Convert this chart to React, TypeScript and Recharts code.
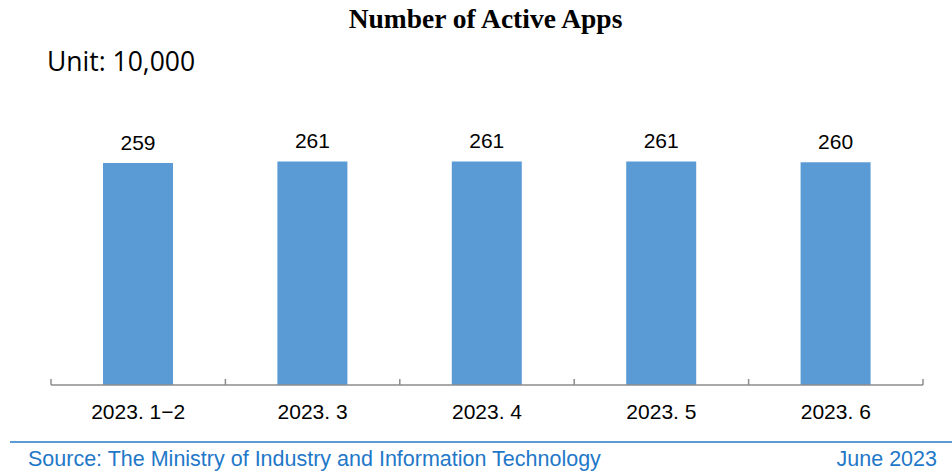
import { BarChart, Bar, XAxis, YAxis, LabelList } from "recharts";

const months = ["2023. 1\u22122", "2023. 3", "2023. 4", "2023. 5", "2023. 6"];
const activeApps = [259, 261, 261, 261, 260];
const edgeTicks = [0, 1, 2, 3, 4, 5];

// pos = slot centre, used only by the hidden numeric axis that draws boundary ticks
const data = months.map((month, i) => ({ month, apps: activeApps[i], pos: i + 0.5 }));

const BLUE = "#5b9bd5";
const noLabel = () => <g />;

export default function App() {
  return (
    <div style={{ position: "absolute", top: 0, left: 0, width: 952, height: 475, background: "#fff", overflow: "hidden" }}>
      <div
        style={{
          position: "absolute",
          top: 3,
          left: 0,
          width: 971,
          textAlign: "center",
          fontFamily: "'Liberation Serif', serif",
          fontWeight: "bold",
          fontSize: 27.5,
          color: "#000",
        }}
      >
        Number of Active Apps
      </div>
      <div
        style={{
          position: "absolute",
          top: 43,
          left: 47,
          fontFamily: "'Open Sans', sans-serif",
          fontSize: 26.5,
          color: "#000",
        }}
      >
        Unit: 10,000
      </div>

      <BarChart
        width={952}
        height={475}
        data={data}
        margin={{ top: 128, right: 29, bottom: 51, left: 51 }}
        style={{ position: "absolute", top: 0, left: 0 }}
      >
        <YAxis hide domain={[0, 300]} />
        <XAxis
          xAxisId="edges"
          dataKey="pos"
          type="number"
          domain={[0, 5]}
          ticks={edgeTicks}
          allowDataOverflow
          height={1}
          mirror
          tick={noLabel}
          tickSize={6}
          axisLine={{ stroke: "#8c8c8c", strokeWidth: 1.5 }}
          tickLine={{ stroke: "#8c8c8c", strokeWidth: 1.5 }}
        />
        <XAxis
          dataKey="month"
          height={39}
          axisLine={false}
          tickLine={false}
          tick={{ fontFamily: "'Liberation Sans', sans-serif", fontSize: 21, fill: "#000" }}
          dy={11}
        />
        <Bar dataKey="apps" fill={BLUE} barSize={70} isAnimationActive={false}>
          <LabelList
            dataKey="apps"
            position="top"
            offset={13}
            style={{ fontFamily: "'Liberation Sans', sans-serif", fontSize: 21, fill: "#000" }}
          />
        </Bar>
      </BarChart>

      <div
        style={{
          position: "absolute",
          top: 441,
          left: 10,
          width: 942,
          height: 2,
          background: BLUE,
        }}
      />
      <div
        style={{
          position: "absolute",
          top: 447,
          left: 28,
          fontFamily: "'Liberation Sans', sans-serif",
          fontSize: 21.5,
          color: "#1f78c8",
        }}
      >
        Source: The Ministry of Industry and Information Technology
      </div>
      <div
        style={{
          position: "absolute",
          top: 447,
          right: 15,
          fontFamily: "'Liberation Sans', sans-serif",
          fontSize: 21.5,
          color: "#1f78c8",
        }}
      >
        June 2023
      </div>
    </div>
  );
}
